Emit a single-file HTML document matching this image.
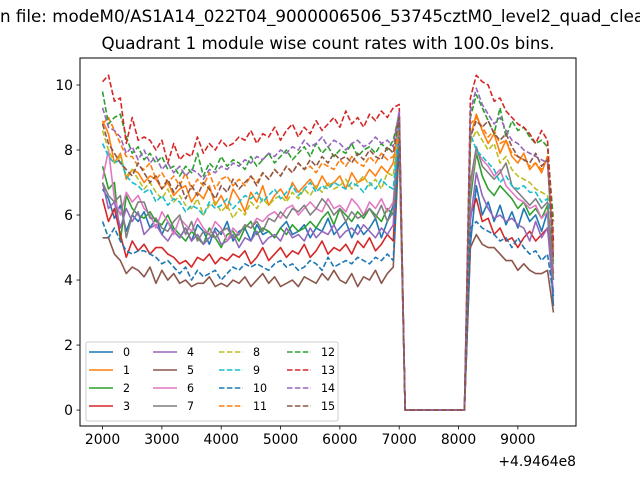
<!DOCTYPE html>
<html><head><meta charset="utf-8">
<style>
body{margin:0;background:#fff;}
svg{display:block;font-family:"DejaVu Sans","Liberation Sans",sans-serif;}
</style></head>
<body>
<svg id="chart" width="640" height="480" viewBox="0 0 640 480" xmlns="http://www.w3.org/2000/svg">
<rect x="0" y="0" width="640" height="480" fill="#fff"/>
<text x="0" y="22" font-size="16.7" fill="#000">n file: modeM0/AS1A14_022T04_9000006506_53745cztM0_level2_quad_clean.evt</text>
<text x="328" y="49" font-size="16.7" text-anchor="middle" fill="#000">Quadrant 1 module wise count rates with 100.0s bins.</text>
<g id="plot"></g>
<rect x="80" y="58" width="496" height="368" fill="none" stroke="#000" stroke-width="1"/>
<g id="axes"></g>
<g id="legend"></g>
</svg>
<script>
const xTicks=[2000,3000,4000,5000,6000,7000,8000,9000];
const yTicks=[0,2,4,6,8,10];
const offsetLabel="+4.9464e8";
const seriesNames=["0","1","2","3","4","5","6","7","8","9","10","11","12","13","14","15"];
const gapZeros=[0,0,0,0,0,0,0,0,0,0,0];
// first segment: t=2000..7000 (step 100), second segment: t=8200..9600
const s0a=[6.8,6.5,5.9,6.3,5.5,6.0,5.8,6.1,5.6,5.9,5.4,5.8,5.5,5.3,5.6,5.2,5.7,5.5,5.1,5.6,5.4,5.8,5.2,5.5,5.6,5.2,5.7,5.4,5.5,5.3,5.6,5.8,5.4,5.5,5.7,5.3,5.6,5.5,5.9,5.4,5.6,5.8,5.3,5.7,5.4,5.6,5.9,5.3,5.8,6.3,8.8];
const s0b=[5.1,6.9,6.0,6.4,5.8,6.3,5.7,6.1,5.6,6.2,5.8,6.0,5.5,6.1,3.2];
const s1a=[8.9,8.5,7.6,7.9,7.1,7.4,7.3,7.0,7.2,7.1,6.8,7.0,6.6,6.8,6.9,6.4,6.7,6.5,6.9,6.3,6.6,6.2,6.8,6.5,6.1,6.7,6.4,6.9,6.3,6.6,6.8,6.5,7.0,6.7,6.9,7.1,6.8,7.2,6.9,7.0,7.2,6.8,7.3,7.0,7.1,7.4,7.2,7.5,7.3,7.6,8.9];
const s1b=[8.4,9.1,8.6,8.2,8.5,7.9,8.3,7.8,7.6,7.9,7.4,7.6,7.3,7.8,5.0];
const s2a=[7.5,6.8,7.0,5.2,6.6,6.2,6.0,5.9,6.1,5.8,5.7,6.0,5.6,5.4,5.2,5.5,5.3,5.1,5.6,5.3,5.0,5.4,5.5,5.2,5.6,5.8,5.4,5.6,5.5,5.3,5.6,5.4,5.7,5.5,5.6,5.8,5.6,5.9,6.1,5.7,6.2,6.0,5.8,6.1,5.9,6.2,6.0,5.8,6.2,6.0,9.0];
const s2b=[6.5,7.9,7.2,6.8,6.6,6.9,6.7,6.5,6.2,6.4,6.0,6.2,5.9,6.3,4.5];
const s3a=[6.5,5.8,6.2,5.4,4.7,5.2,4.9,5.1,4.8,5.0,5.0,4.8,4.7,4.5,4.6,4.4,4.7,4.6,4.8,4.5,4.7,4.6,4.8,4.7,4.9,4.5,4.7,5.0,4.6,4.8,5.0,4.7,4.9,4.8,5.1,4.7,4.9,5.2,4.8,5.0,4.9,5.1,4.8,5.2,5.0,5.3,4.9,5.1,5.4,5.2,8.6];
const s3b=[6.0,6.5,5.8,5.9,5.4,5.6,5.2,5.3,5.0,5.3,5.5,5.2,5.4,5.6,4.2];
const s4a=[7.0,6.2,6.4,5.6,6.2,5.8,6.1,5.4,5.6,5.7,5.4,5.2,5.5,5.3,5.6,5.2,5.4,5.1,5.3,5.5,5.1,5.2,5.4,5.0,5.3,5.2,5.5,5.1,5.3,5.4,5.2,5.6,5.3,5.4,5.2,5.6,5.3,5.5,5.4,5.7,5.3,5.5,5.6,5.4,5.7,5.5,5.3,5.6,5.4,5.7,9.1];
const s4b=[5.8,7.3,6.6,6.2,5.9,6.0,5.8,5.9,5.7,5.6,5.2,5.8,5.3,5.6,3.6];
const s5a=[5.3,5.3,4.8,4.6,4.2,4.4,4.3,4.1,4.4,3.9,4.3,4.0,4.2,3.9,4.0,3.8,3.9,3.9,4.1,3.8,3.9,3.8,4.0,3.9,4.1,3.8,4.0,4.2,3.9,4.1,3.8,3.9,4.0,3.8,4.1,4.0,3.9,4.2,4.0,4.3,4.0,3.9,4.2,3.8,4.1,4.0,4.3,3.9,4.2,4.4,8.2];
const s5b=[5.0,5.4,5.1,5.0,5.0,4.8,4.6,4.6,4.3,4.5,4.3,4.2,4.2,4.3,3.0];
const s6a=[7.1,8.0,6.5,6.0,6.7,6.4,6.6,6.2,6.0,5.6,6.1,5.8,5.4,5.9,5.7,5.5,5.9,5.6,5.4,5.8,5.6,5.2,5.6,5.4,5.7,5.6,5.9,5.8,6.0,6.1,5.9,6.2,6.3,6.0,6.2,6.4,6.2,6.1,6.5,6.2,6.3,6.1,6.5,6.3,6.0,6.4,6.2,6.5,6.1,6.4,8.7];
const s6b=[6.8,8.0,7.7,7.5,7.2,7.4,6.9,6.7,6.5,6.4,6.2,6.3,5.9,6.1,4.3];
const s7a=[7.0,6.6,6.4,6.6,5.3,6.0,6.4,6.4,5.9,5.9,5.6,5.5,5.8,6.0,5.4,5.8,5.2,5.5,5.4,5.3,5.5,5.6,5.3,5.4,5.7,5.6,5.8,5.5,5.9,5.8,6.1,5.9,6.2,6.1,6.3,6.0,6.2,6.5,6.3,6.0,6.2,5.8,6.1,5.9,6.0,6.2,5.9,6.3,5.8,6.1,8.8];
const s7b=[7.0,8.1,7.5,7.3,7.1,7.3,7.6,6.9,6.7,6.5,6.3,6.5,6.2,6.4,4.0];
const s8a=[8.6,8.0,7.6,7.8,7.2,7.4,7.1,6.8,7.0,6.7,6.5,6.8,6.4,6.6,6.3,6.2,6.5,6.0,6.3,6.4,6.1,6.3,5.9,6.2,6.0,6.4,6.2,6.5,6.3,6.5,6.6,6.4,6.7,6.5,6.8,6.6,6.9,6.7,7.0,6.8,6.9,7.1,6.8,7.0,7.2,6.9,7.1,6.8,7.3,7.2,8.7];
const s8b=[8.2,8.6,8.3,8.0,8.2,7.6,7.8,7.4,7.2,7.1,7.0,6.8,6.7,6.6,5.5];
const s9a=[8.2,7.8,7.6,7.7,7.2,7.0,6.9,6.7,6.8,6.4,6.6,6.3,6.5,6.4,6.1,6.3,6.2,6.0,6.4,6.2,6.3,6.5,6.2,6.4,6.6,6.5,6.7,6.4,6.6,6.8,6.5,6.7,6.9,6.6,6.8,7.0,6.7,6.9,6.8,7.0,6.9,6.8,7.0,6.9,6.7,7.0,6.8,7.1,6.9,6.8,8.8];
const s9b=[8.5,8.0,7.8,7.6,7.4,7.0,7.2,6.9,6.8,6.9,6.7,6.7,6.4,6.5,5.6];
const s10a=[5.8,5.3,5.6,5.2,4.9,4.8,4.9,4.9,4.8,4.7,4.5,4.6,4.4,4.2,4.4,4.0,4.3,4.1,4.2,4.3,4.0,4.2,4.4,4.3,4.5,4.4,4.5,4.4,4.3,4.5,4.6,4.4,4.5,4.3,4.4,4.6,4.5,4.3,4.7,4.4,4.5,4.6,4.5,4.7,4.6,4.5,4.7,4.6,4.8,4.6,8.4];
const s10b=[5.6,5.8,5.6,5.5,5.4,5.2,5.3,5.0,5.3,5.0,4.8,4.9,4.6,4.8,3.5];
const s11a=[8.8,9.0,8.6,8.2,7.8,7.8,7.5,7.4,7.6,7.1,7.3,7.0,7.2,6.9,7.3,6.8,7.1,6.9,7.3,6.8,7.1,7.2,6.9,7.1,6.9,7.2,7.0,7.3,7.1,7.4,7.2,7.5,7.3,7.6,7.4,7.5,7.3,7.6,7.5,7.4,7.7,7.5,7.8,7.6,7.5,7.8,7.6,7.9,7.7,7.8,8.5];
const s11b=[8.8,9.0,8.7,8.4,8.6,8.2,8.3,7.9,7.8,7.7,7.5,7.6,7.4,7.8,4.9];
const s12a=[9.8,8.8,9.0,9.1,8.4,7.9,8.1,7.7,7.9,7.6,7.8,7.4,7.5,7.2,7.5,7.3,7.9,7.2,7.6,7.4,7.8,7.5,7.7,7.6,7.4,7.8,7.5,7.7,7.9,7.6,7.8,8.0,7.7,7.9,8.1,7.8,8.2,7.9,8.1,7.8,8.0,7.9,8.2,7.8,8.0,8.1,7.9,8.2,8.0,8.3,9.1];
const s12b=[9.0,9.7,9.3,8.9,8.5,9.3,8.4,8.9,8.6,8.7,8.4,8.2,8.3,8.1,5.8];
const s13a=[10.1,10.3,9.5,9.6,8.2,9.0,8.3,8.4,8.3,8.0,8.3,7.6,8.2,7.7,7.9,7.8,8.4,7.9,8.2,8.0,8.3,8.1,8.2,8.4,8.3,8.6,8.2,8.5,8.4,8.7,8.3,8.6,8.8,8.4,8.7,8.5,8.9,8.6,8.8,9.0,8.7,9.2,8.8,9.0,8.7,9.1,8.9,9.2,9.0,9.3,9.4];
const s13b=[9.6,10.3,10.1,10.0,9.5,9.6,9.2,9.0,8.8,8.7,8.5,8.2,8.6,8.3,5.2];
const s14a=[9.3,8.7,8.6,8.4,7.9,8.1,7.7,8.0,7.6,7.8,7.4,7.6,7.3,7.5,7.2,7.4,7.3,7.1,7.4,7.3,7.5,7.4,7.6,7.5,7.7,7.6,7.8,7.7,7.9,7.8,8.0,7.9,8.1,8.0,8.3,8.1,8.2,8.4,8.1,8.3,8.2,8.0,8.2,8.3,8.1,8.2,8.4,8.2,8.3,8.1,9.2];
const s14b=[9.2,9.9,9.4,9.1,8.8,9.0,8.6,8.3,8.2,8.0,7.9,7.8,7.7,7.6,4.7];
const s15a=[8.8,8.2,7.9,7.6,7.4,7.2,7.6,7.3,7.0,7.2,6.8,7.1,6.7,7.0,6.5,6.9,6.6,7.0,6.8,6.5,6.9,6.7,7.1,6.8,7.0,7.2,6.9,7.3,7.1,7.4,7.2,7.5,7.3,7.6,7.4,7.7,7.5,7.8,7.6,7.9,7.7,7.8,7.6,7.9,7.7,8.0,7.8,7.7,8.1,7.9,9.0];
const s15b=[8.4,8.9,8.7,8.9,8.5,8.3,8.5,8.1,7.8,7.7,7.6,7.9,7.5,7.7,4.6];
const segA=[s0a,s1a,s2a,s3a,s4a,s5a,s6a,s7a,s8a,s9a,s10a,s11a,s12a,s13a,s14a,s15a];
const segB=[s0b,s1b,s2b,s3b,s4b,s5b,s6b,s7b,s8b,s9b,s10b,s11b,s12b,s13b,s14b,s15b];
const tStart=2000, tStep=100;

const colors=["#1f77b4","#ff7f0e","#2ca02c","#d62728","#9467bd","#8c564b","#e377c2","#7f7f7f","#bcbd22","#17becf","#1f77b4","#ff7f0e","#2ca02c","#d62728","#9467bd","#8c564b"];
const L=80,R=576,T=58,B=426, xmin=1620,xmax=9980,ymin=-0.49,ymax=10.83;
const X=v=>L+(v-xmin)/(xmax-xmin)*(R-L);
const Y=v=>B-(v-ymin)/(ymax-ymin)*(B-T);
const NS="http://www.w3.org/2000/svg";
function mk(tag,attrs,parent){const e=document.createElementNS(NS,tag);for(const k in attrs)e.setAttribute(k,attrs[k]);parent.appendChild(e);return e;}
const plot=document.getElementById('plot'), axes=document.getElementById('axes'), leg=document.getElementById('legend');
for(let i=0;i<16;i++){
  const vals=segA[i].concat(gapZeros,segB[i]);
  const pts=vals.map((v,j)=>X(tStart+j*tStep).toFixed(2)+","+Y(v).toFixed(2)).join(" ");
  const p=mk('polyline',{points:pts,fill:'none',stroke:colors[i],'stroke-width':1.6,'stroke-linejoin':'round'},plot);
  if(i>=8)p.setAttribute('stroke-dasharray','5.5,2.4');
  
  
}
xTicks.forEach(t=>{
  const x=X(t);
  const l=mk('line',{x1:x,x2:x,y1:B,y2:B+3.5,stroke:'#000','stroke-width':0.8},axes);
  
  
  const tx=mk('text',{x:x,y:B+18,'font-size':13.9,'text-anchor':'middle'},axes);
  tx.textContent=t;
  
  
});
const off=mk('text',{x:R,y:466,'font-size':13.9,'text-anchor':'end'},axes);
off.textContent=offsetLabel;


yTicks.forEach(t=>{
  const y=Y(t);
  const l=mk('line',{x1:L-3.5,x2:L,y1:y,y2:y,stroke:'#000','stroke-width':0.8},axes);
  
  
  const tx=mk('text',{x:L-7,y:y+5,'font-size':13.9,'text-anchor':'end'},axes);
  tx.textContent=t;
  
  
});
const box=mk('rect',{x:86,y:342,width:252,height:79,rx:2,fill:'#fff','fill-opacity':0.8,stroke:'#ccc','stroke-width':1},leg);


const colX=[89,153,219,287], rowY=[352,370,388,406];
for(let i=0;i<16;i++){
  const cx=colX[Math.floor(i/4)], cy=rowY[i%4];
  const g=mk('g',{},leg);
  
  
  const ln=mk('line',{x1:cx,x2:cx+24,y1:cy,y2:cy,stroke:colors[i],'stroke-width':1.5},g);
  if(i>=8)ln.setAttribute('stroke-dasharray','5.5,2.4');
  const tx=mk('text',{x:cx+34,y:cy+4,'font-size':11.1},g);
  tx.textContent=seriesNames[i];
}
</script>
</body></html>
